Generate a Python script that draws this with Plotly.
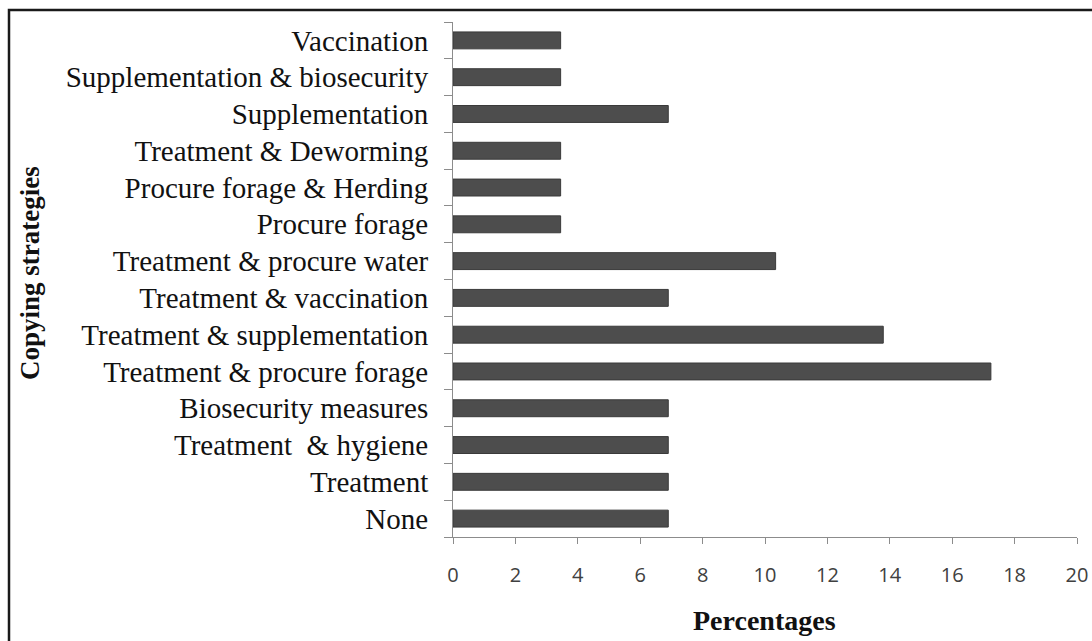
import plotly.graph_objects as go

# Coping strategies (bottom to top as drawn on the category axis)
strategies = [
    "None",
    "Treatment",
    "Treatment  & hygiene",
    "Biosecurity measures",
    "Treatment & procure forage",
    "Treatment & supplementation",
    "Treatment & vaccination",
    "Treatment & procure water",
    "Procure forage",
    "Procure forage & Herding",
    "Treatment & Deworming",
    "Supplementation",
    "Supplementation & biosecurity",
    "Vaccination",
]
percentages = [6.9, 6.9, 6.9, 6.9, 17.24, 13.79, 6.9, 10.34, 3.45, 3.45, 3.45, 6.9, 3.45, 3.45]
x_ticks = list(range(0, 21, 2))

W, H = 1092, 641
L, R, T, B = 453, 15, 22, 104
pw, ph = W - L - R, H - T - B


def px_x(p):
    return (p - L) / pw


def px_y(p):
    return (H - B - p) / ph


fig = go.Figure()
fig.add_trace(go.Bar(
    x=percentages,
    y=strategies,
    orientation="h",
    marker=dict(color="#4d4d4d", line=dict(color="#3a3a3a", width=1)),
    width=0.46,
    hoverinfo="x+y",
))

fig.update_layout(
    template="none",
    width=W,
    height=H,
    margin=dict(l=L, r=R, t=T, b=B, pad=0, autoexpand=False),
    paper_bgcolor="white",
    plot_bgcolor="white",
    showlegend=False,
    xaxis=dict(
        range=[0, 20],
        tickvals=x_ticks,
        ticktext=[str(v) for v in x_ticks],
        automargin=False,
        showgrid=False,
        zeroline=False,
        showline=True,
        linecolor="#8c8c8c",
        linewidth=1,
        ticks="outside",
        ticklen=6,
        tickcolor="#8c8c8c",
        tickfont=dict(family="Open Sans", size=20, color="#404040"),
        ticklabelstandoff=14,
    ),
    yaxis=dict(
        type="category",
        categoryorder="array",
        categoryarray=strategies,
        range=[-0.5, len(strategies) - 0.5],
        automargin=False,
        showgrid=False,
        zeroline=False,
        showline=True,
        linecolor="#8c8c8c",
        linewidth=1,
        ticks="outside",
        tickson="boundaries",
        ticklen=8,
        tickcolor="#8c8c8c",
        tickfont=dict(family="Liberation Serif", size=29, color="#111111"),
        ticklabelstandoff=18,
    ),
    annotations=[
        dict(
            text="<b>Percentages</b>",
            xref="paper", yref="paper",
            x=px_x(764), y=px_y(620),
            xanchor="center", yanchor="middle",
            showarrow=False,
            font=dict(family="Liberation Serif", size=28, color="#111111"),
        ),
        dict(
            text="<b>Copying strategies</b>",
            xref="paper", yref="paper",
            x=px_x(30), y=px_y(273),
            xanchor="center", yanchor="middle",
            textangle=-90,
            showarrow=False,
            font=dict(family="Liberation Serif", size=27, color="#111111"),
        ),
    ],
    shapes=[
        dict(
            type="rect",
            xref="paper", yref="paper",
            x0=px_x(9), x1=px_x(W + 20),
            y0=px_y(H + 20), y1=px_y(10),
            line=dict(color="#1a1a1a", width=2.5),
            fillcolor="rgba(0,0,0,0)",
            layer="above",
        )
    ],
)

fig.write_html("out.html")
